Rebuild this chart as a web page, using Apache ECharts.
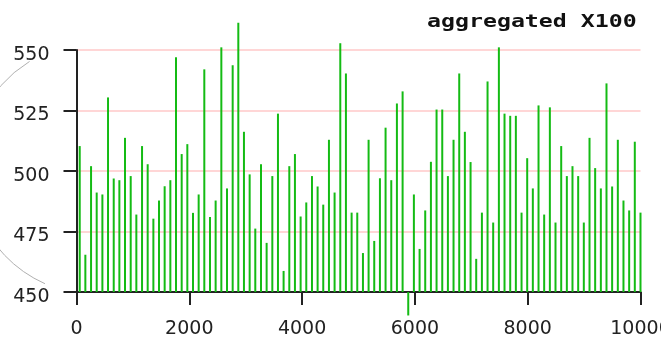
<!DOCTYPE html>
<html>
<head>
<meta charset="utf-8">
<script src="https://cdn.jsdelivr.net/npm/echarts@6/dist/echarts.min.js"></script>
<style>
  html, body { margin: 0; padding: 0; background: #fff; }
  #chart { width: 661px; height: 339px; }
</style>
</head>
<body>
<div id="chart"></div>
<script>
// Bin positions (x) and aggregated values per bin
const binX = [57, 157, 258, 358, 459, 559, 660, 760, 860, 961,
  1061, 1162, 1262, 1363, 1463, 1563, 1664, 1764, 1865, 1965,
  2066, 2166, 2266, 2367, 2467, 2568, 2668, 2769, 2869, 2969,
  3070, 3170, 3271, 3371, 3472, 3572, 3672, 3773, 3873, 3974,
  4074, 4175, 4275, 4375, 4476, 4576, 4677, 4777, 4878, 4978,
  5079, 5179, 5279, 5380, 5480, 5581, 5681, 5782, 5882, 5982,
  6083, 6183, 6284, 6384, 6485, 6585, 6685, 6786, 6886, 6987,
  7087, 7188, 7288, 7388, 7489, 7589, 7690, 7790, 7891, 7991,
  8091, 8192, 8292, 8393, 8493, 8594, 8694, 8794, 8895, 8995,
  9096, 9196, 9297, 9397, 9497, 9598, 9698, 9799, 9899, 10000];

const binValues = [510.3, 465.4, 502.0, 491.1, 490.3, 530.4, 496.9, 496.2, 513.7, 497.9,
  482.0, 510.3, 502.8, 480.3, 487.8, 493.7, 496.2, 547.0, 507.0, 511.1,
  482.7, 490.3, 542.0, 481.0, 487.8, 551.1, 492.8, 543.7, 561.3, 516.2,
  498.6, 476.2, 502.8, 470.3, 497.9, 523.7, 458.7, 502.0, 507.0, 481.2,
  487.0, 497.9, 493.6, 486.1, 512.9, 491.1, 552.8, 540.3, 482.8, 482.8,
  466.1, 512.9, 471.1, 497.0, 517.9, 496.2, 527.9, 532.9, 440.3, 490.3,
  467.8, 483.7, 503.8, 525.4, 525.4, 497.9, 512.9, 540.3, 516.2, 503.7,
  463.7, 482.8, 537.0, 478.7, 551.1, 523.7, 522.8, 522.8, 482.8, 505.3,
  492.8, 527.1, 482.0, 526.3, 478.7, 510.3, 497.9, 502.0, 497.9, 478.7,
  513.7, 501.2, 492.8, 536.2, 493.6, 512.9, 487.8, 483.7, 512.1, 482.8];

const xTicks = [0, 2000, 4000, 6000, 8000, 10000];
const yTicks = [450, 475, 500, 525, 550];
const baseline = 450;
const titleText = 'aggregated X100';

const data = binX.map((x, i) => [x, binValues[i]]);

const chart = echarts.init(document.getElementById('chart'), null, { renderer: 'canvas' });

const labelFont = { fontFamily: 'DejaVu Sans', fontSize: 19, color: '#222' };

chart.setOption({
  backgroundColor: '#fff',
  animation: false,
  grid: {
    left: 76.5, right: 20.5, top: 50, bottom: 47,
    containLabel: false,
    outerBoundsMode: 'none'
  },
  xAxis: {
    type: 'value',
    min: xTicks[0],
    max: xTicks[xTicks.length - 1],
    interval: 2000,
    axisLine: { show: true, onZero: false, lineStyle: { color: '#222', width: 2 } },
    axisTick: { show: true, length: 13, lineStyle: { color: '#222', width: 2 } },
    axisLabel: Object.assign({ margin: 28, formatter: v => String(v), hideOverlap: false }, labelFont),
    splitLine: { show: false }
  },
  yAxis: {
    type: 'value',
    min: yTicks[0],
    max: yTicks[yTicks.length - 1],
    interval: 25,
    axisLine: { show: true, lineStyle: { color: '#222', width: 2 } },
    axisTick: { show: true, length: 13, lineStyle: { color: '#222', width: 2 } },
    // labels sit a little below their tick marks
    axisLabel: Object.assign({ margin: 27, verticalAlign: 'top', lineHeight: 10 }, labelFont),
    splitLine: { show: true, lineStyle: { color: '#ffc8c8', width: 1.5 } }
  },
  graphic: [
    {
      type: 'arc',
      silent: true,
      z: -1,
      shape: { cx: 96, cy: 168.5, r: 126, startAngle: 1.988, endAngle: 4.157, clockwise: true },
      style: { stroke: '#b0b0b0', lineWidth: 1, fill: null }
    },
    {
      type: 'text',
      x: 427,
      y: 13,
      scaleX: 1.29,
      style: {
        text: titleText,
        font: 'bold 18px "DejaVu Sans Mono"',
        fill: '#111',
        align: 'left',
        verticalAlign: 'top'
      }
    }
  ],
  series: [{
    type: 'custom',
    clip: false,
    data: data,
    encode: { x: 0, y: 1 },
    renderItem: function (params, api) {
      const x = api.value(0);
      const p0 = api.coord([x, baseline]);
      const p1 = api.coord([x, api.value(1)]);
      return {
        type: 'line',
        shape: { x1: p0[0], y1: p0[1], x2: p1[0], y2: p1[1] },
        style: { stroke: '#14bb14', lineWidth: 2 }
      };
    }
  }]
});
</script>
</body>
</html>
